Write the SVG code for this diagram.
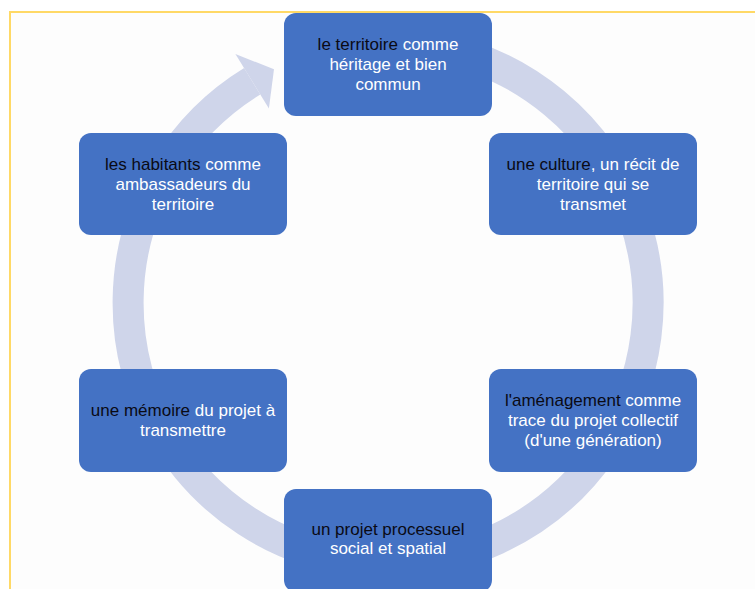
<svg xmlns="http://www.w3.org/2000/svg" width="755" height="589" viewBox="0 0 755 589">
  <style>
    .node { fill: #4472C4; }
    .t { font-family: "Liberation Sans", Arial, sans-serif; font-size: 17px; fill: #FFFFFF; text-anchor: middle; }
    .k { fill: #0A0A14; }
    .ring { fill: none; stroke: #CFD5EA; stroke-width: 31; }
    .head { fill: #CFD5EA; }
  </style>
  <rect x="0" y="0" width="755" height="589" fill="#FFFFFF"/>
  <rect x="10" y="12" width="770" height="600" fill="#FDFDFD" stroke="#FFD966" stroke-width="2"/>
  <g id="connectors">
    <path class="ring" d="M 307.7 55.7 A 260 260 0 1 1 252.2 81.3"/>
    <polygon class="head" points="235.4,54 274,69.3 268.9,108.6"/>
  </g>
  <g id="node1">
    <rect class="node" x="284" y="13" width="208" height="103" rx="12"/>
    <text class="t" x="388" y="50"><tspan class="k">le territoire</tspan> comme</text>
    <text class="t" x="388" y="70">héritage et bien</text>
    <text class="t" x="388" y="90">commun</text>
  </g>
  <g id="node2">
    <rect class="node" x="489" y="133" width="208" height="102" rx="12"/>
    <text class="t" x="593" y="169.5"><tspan class="k">une culture</tspan>, un récit de</text>
    <text class="t" x="593" y="189.5">territoire qui se</text>
    <text class="t" x="593" y="209.5">transmet</text>
  </g>
  <g id="node3">
    <rect class="node" x="489" y="369" width="208" height="103" rx="12"/>
    <text class="t" x="593" y="405.5"><tspan class="k">l'aménagement</tspan> comme</text>
    <text class="t" x="593" y="425.5">trace du projet collectif</text>
    <text class="t" x="593" y="445.5">(d'une génération)</text>
  </g>
  <g id="node4">
    <rect class="node" x="284" y="489" width="208" height="103" rx="12"/>
    <text class="t" x="388" y="535"><tspan class="k">un projet processuel</tspan></text>
    <text class="t" x="388" y="554">social et spatial</text>
  </g>
  <g id="node5">
    <rect class="node" x="79" y="369" width="208" height="103" rx="12"/>
    <text class="t" x="183" y="416"><tspan class="k">une mémoire</tspan> du projet à</text>
    <text class="t" x="183" y="436">transmettre</text>
  </g>
  <g id="node6">
    <rect class="node" x="79" y="133" width="208" height="102" rx="12"/>
    <text class="t" x="183" y="169.5"><tspan class="k">les habitants</tspan> comme</text>
    <text class="t" x="183" y="189.5">ambassadeurs du</text>
    <text class="t" x="183" y="209.5">territoire</text>
  </g>
</svg>
